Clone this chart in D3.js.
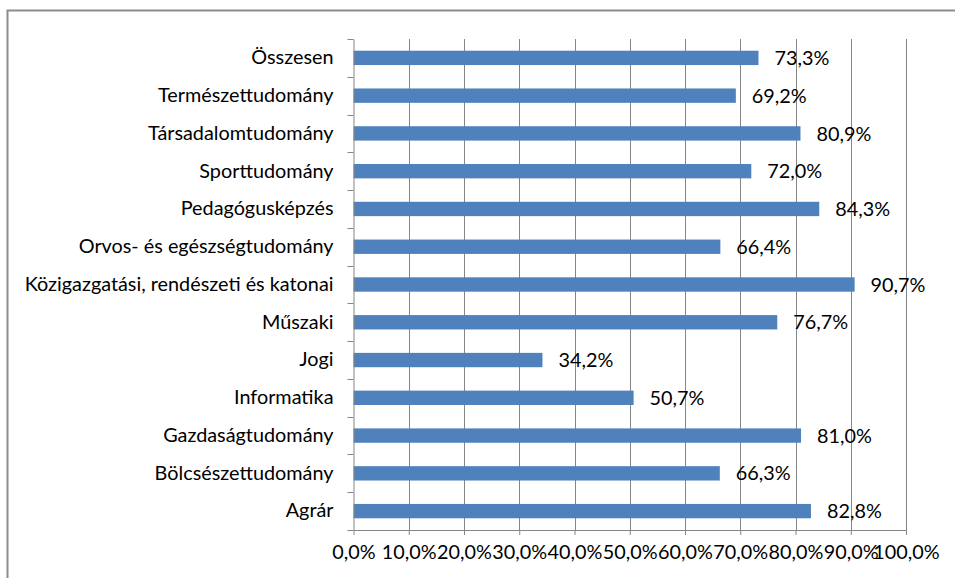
<!DOCTYPE html>
<html><head><meta charset="utf-8">
<script src="https://cdn.jsdelivr.net/npm/d3@7"></script>
<style>body{margin:0;background:#fff}svg{display:block}text{font-family:Lato,sans-serif;fill:#000}</style>
</head><body>
<svg id="c" width="955" height="578"></svg>
<script>
const categories = ["Összesen","Természettudomány","Társadalomtudomány","Sporttudomány","Pedagógusképzés","Orvos- és egészségtudomány","Közigazgatási, rendészeti és katonai","Műszaki","Jogi","Informatika","Gazdaságtudomány","Bölcsészettudomány","Agrár"];
const values = [73.3,69.2,80.9,72.0,84.3,66.4,90.7,76.7,34.2,50.7,81.0,66.3,82.8];
const xTicks = [0,10,20,30,40,50,60,70,80,90,100];

(function(){
const svg = d3.select("#c");
const FF = "Lato";
// fit font size so the longest category label matches the reference width
const probe = svg.append("text").attr("font-family",FF).attr("font-size",20).text(categories[6]);
const w20 = probe.node().getComputedTextLength(); probe.remove();
const FS = Math.max(12, Math.min(22, 20*309/w20));

const fmt = v => v.toFixed(1).replace(".", ",") + "%";
const pL = 353.5, pR = 906, pT = 39, pB = 530;
const x = d3.scaleLinear().domain([0,100]).range([pL,pR]);
const y = d3.scaleBand().domain(categories).range([pT,pB]).paddingInner(0.62).paddingOuter(0.31);
const yb = d3.scaleBand().domain(categories).range([pT,pB]);

svg.append("path").attr("d","M7.5,578 V10.5 H955").attr("fill","none").attr("stroke","#8c8c8c").attr("stroke-width",2);

svg.append("g").selectAll("line").data(xTicks.slice(1)).join("line")
  .attr("x1",d=>Math.round(x(d))+0.5).attr("x2",d=>Math.round(x(d))+0.5)
  .attr("y1",pT).attr("y2",pB).attr("stroke","#868686").attr("stroke-width",1);

svg.append("g").selectAll("rect").data(values).join("rect")
  .attr("x",x(0)).attr("y",(d,i)=>y(categories[i]))
  .attr("width",d=>x(d)-x(0)).attr("height",y.bandwidth()).attr("fill","#4F81BD");

svg.append("g").selectAll("text").data(values).join("text")
  .attr("x",d=>x(d)+16).attr("y",(d,i)=>y(categories[i])+y.bandwidth()/2)
  .attr("dy","0.36em").attr("font-size",FS).attr("font-family",FF).text(d=>fmt(d));

const xa = svg.append("g").attr("transform",`translate(0,${pB})`)
  .call(d3.axisBottom(x).tickValues(xTicks).tickSize(5).tickSizeOuter(0).tickPadding(10).tickFormat(fmt));
xa.select(".domain").attr("stroke","#868686");
xa.selectAll(".tick line").attr("stroke","#868686");
xa.selectAll("text").attr("font-size",FS).attr("font-family",FF).attr("fill","#000");

const ya = svg.append("g").attr("transform",`translate(${pL},0)`)
  .call(d3.axisLeft(yb).tickSize(0).tickPadding(20));
ya.select(".domain").attr("stroke","#868686");
ya.selectAll("text").attr("font-size",FS).attr("font-family",FF).attr("fill","#000");
const bounds = categories.map(c=>yb(c)).concat([pB]);
ya.append("g").selectAll("line").data(bounds).join("line")
  .attr("x1",-6).attr("x2",0).attr("y1",d=>Math.round(d)+0.5).attr("y2",d=>Math.round(d)+0.5).attr("stroke","#868686");
})();
</script>
</body></html>
